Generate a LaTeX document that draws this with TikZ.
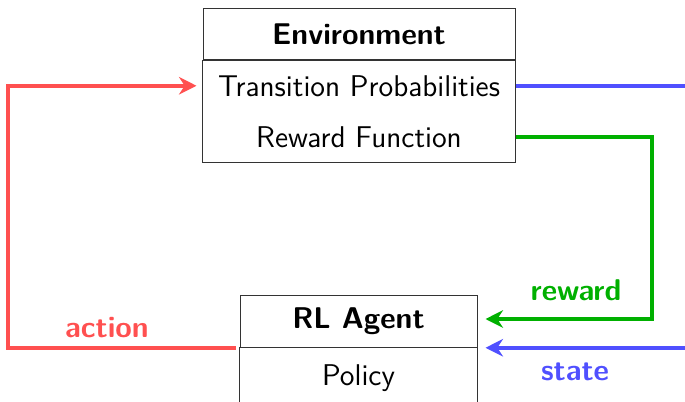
\documentclass[tikz,border=0pt]{standalone}
\usepackage[dvipsnames]{xcolor}
\definecolor{ActionRed}{HTML}{FF5050}
\definecolor{StateBlue}{HTML}{5050FF}
\definecolor{RewardGreen}{HTML}{00B000}
\usepackage{tikz}
\usetikzlibrary{arrows.meta, positioning, fit}
\tikzset{
  % Box styles
  titlebox/.style={rectangle, draw=black!80, thin, inner sep=0pt, minimum height=20.6pt, font=\sffamily\large\bfseries, align=center},
  rowcell/.style={rectangle, inner sep=0pt, minimum height=20pt, font=\sffamily\large, align=center},
  framebox/.style={rectangle, draw=black!80, thin, inner sep=0pt},
  % Arrow styles
  flow/.style={-{Stealth[length=7pt, width=7pt]}, line width=1.5pt},
  % Label styles
  flowlabel/.style={font=\sffamily\large\bfseries}
}
\begin{document}
\begin{tikzpicture}[x=0.4pt, y=-0.4pt]
  \useasboundingbox (0,0) rectangle (685,401);

  % Environment
  \node[titlebox, minimum width=124.8pt] (env) at (359,34) {Environment};
  \node[rowcell, minimum width=124.8pt, below=0pt of env] (trans) {Transition Probabilities};
  \node[rowcell, minimum width=124.8pt, below=0pt of trans] (rewfun) {Reward Function};
  \node[framebox, fit=(trans)(rewfun)] (envbody) {};

  % Agent
  \node[titlebox, minimum width=94.8pt] (agent) at (358.5,321.5) {RL Agent};
  \node[rowcell, minimum width=94.8pt, minimum height=24pt, below=0pt of agent] (policy) {Policy};
  \node[framebox, fit=(policy)] (agentbody) {};

  % Turning points
  \coordinate (actcorner) at (8,0);
  \coordinate (stcorner) at (740,0);
  \coordinate (rwcorner) at (652,0);

  % Connectors
  \draw[flow, ActionRed, shorten <=1.6pt, shorten >=2.4pt]
    (agent.south west) -- (agent.south west -| actcorner) |- (trans.west);
  \draw[flow, StateBlue, shorten >=3.2pt]
    (trans.east) -- (trans.east -| stcorner) |- (agent.south east);
  \draw[flow, RewardGreen, shorten >=3.2pt]
    (rewfun.east) -- (rewfun.east -| rwcorner) |- ([yshift=1pt]agent.east);

  % Labels
  \node[flowlabel, ActionRed] (actlbl) at (107,328) {action};
  \node[flowlabel, StateBlue] (stlbl) at (575,372) {state};
  \node[flowlabel, RewardGreen] (rwlbl) at (576,290) {reward};
\end{tikzpicture}
\end{document}
